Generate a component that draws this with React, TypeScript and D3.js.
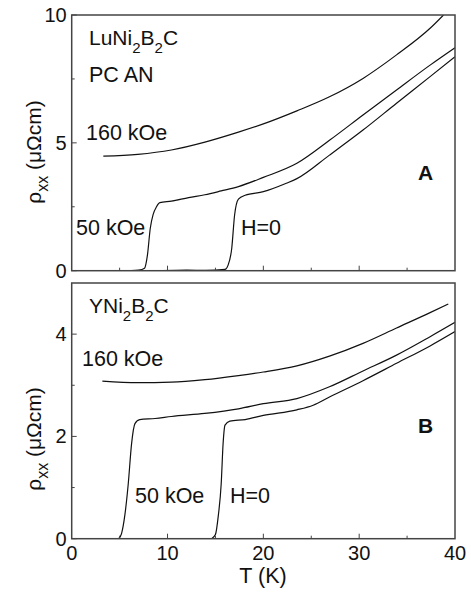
import React from 'react';
import * as d3 from 'd3';

// Panel A: LuNi2B2C
const tA160 = [3.3, 6.9, 10.4, 13.9, 17.4, 20, 23.5, 26.9, 30.4, 33.9, 37.4, 38.8];
const rA160 = [4.48, 4.55, 4.72, 5.03, 5.42, 5.74, 6.25, 6.8, 7.52, 8.44, 9.48, 10.0];
const tA50 = [6.2, 7.0, 7.6, 7.9, 8.2, 8.5, 8.85, 9.2, 10.4, 12.2, 13.9, 15.6, 17.4, 20, 23.5, 26.9, 30.4, 33.9, 37.4, 40];
const rA50 = [0, 0.02, 0.1, 0.6, 1.66, 2.2, 2.5, 2.66, 2.72, 2.86, 2.97, 3.12, 3.29, 3.65, 4.2, 5.1, 6.09, 7.07, 8.04, 8.72];
const tA0 = [9.5, 12, 14, 16.0, 16.3, 16.7, 17.0, 17.4, 18.1, 20, 22.4, 23.5, 26.9, 30.4, 33.9, 37.4, 40];
const rA0 = [0, 0.02, 0.01, 0.05, 0.2, 0.87, 2.18, 2.8, 2.95, 3.09, 3.42, 3.6, 4.52, 5.5, 6.55, 7.59, 8.37];

// Panel B: YNi2B2C
const tB160 = [3.2, 6.9, 10.4, 13.9, 17.4, 20, 23.5, 26.9, 30.4, 33.9, 37.4, 39.3];
const rB160 = [3.08, 3.05, 3.06, 3.11, 3.19, 3.26, 3.38, 3.57, 3.82, 4.12, 4.42, 4.59];
const tB50 = [4.9, 5.2, 5.56, 5.9, 6.25, 6.6, 7.1, 8.7, 10.4, 13.9, 17.4, 20, 23.5, 26.9, 30.4, 33.9, 37.4, 40];
const rB50 = [0, 0.1, 0.48, 1.07, 1.86, 2.25, 2.33, 2.35, 2.39, 2.45, 2.54, 2.64, 2.74, 2.97, 3.28, 3.59, 3.95, 4.23];
const tB0 = [14.6, 15.0, 15.3, 15.6, 15.8, 16.0, 16.5, 18.1, 20, 23.5, 25.2, 26.9, 30.4, 33.9, 37.4, 40];
const rB0 = [0, 0.08, 0.45, 1.07, 1.86, 2.22, 2.3, 2.33, 2.41, 2.52, 2.61, 2.77, 3.09, 3.43, 3.77, 4.05];

const xTicks = [0, 10, 20, 30, 40];
const xMinor = [5, 15, 25, 35];
const yTicksA = [0, 5, 10];
const yMinorA = [2.5, 7.5];
const yTicksB = [0, 2, 4];
const yMinorB = [1, 3];

const W = 471;
const H = 593;
const left = 71.7;
const right = 455;
const font = 'Liberation Sans, Arial, Helvetica, sans-serif';

const x = d3.scaleLinear().domain([0, 40]).range([left, right]);
const yA = d3.scaleLinear().domain([0, 10]).range([270.7, 15]);
const yB = d3.scaleLinear().domain([0, 5]).range([538.7, 283]);

type Pt = [number, number];
const zip = (t: number[], r: number[]): Pt[] => t.map((v, i) => [v, r[i]]);

const Panel = ({ y, yTicks, yMinor, series, clipId, showXLabels }: any) => {
  const line = d3.line<Pt>().x(d => x(d[0])).y(d => y(d[1])).curve(d3.curveMonotoneX);
  const [y0, y1] = y.range();
  return (
    <g>
      <defs>
        <clipPath id={clipId}>
          <rect x={left} y={y1} width={right - left} height={y0 - y1} />
        </clipPath>
      </defs>
      <g clipPath={`url(#${clipId})`}>
        {series.map((s: Pt[], i: number) => (
          <path key={i} d={line(s) || ''} fill="none" stroke="#111" strokeWidth={1.2} />
        ))}
      </g>
      <rect x={left} y={y1} width={right - left} height={y0 - y1} fill="none" stroke="#444" strokeWidth={1.5} />
      {xTicks.slice(1, -1).map(t => (
        <line key={'xt' + t} x1={x(t)} x2={x(t)} y1={y0} y2={y0 - 5} stroke="#444" strokeWidth={1} />
      ))}
      {xMinor.map(t => (
        <line key={'xm' + t} x1={x(t)} x2={x(t)} y1={y0} y2={y0 - 3} stroke="#444" strokeWidth={1} />
      ))}
      {yTicks.map((t: number) => (
        <g key={'yt' + t}>
          <line x1={left} x2={left + 5} y1={y(t)} y2={y(t)} stroke="#444" strokeWidth={1} />
          <text x={left - 5} y={y(t) + 7} textAnchor="end" fontSize={20} fontFamily={font} fill="#111">{t}</text>
        </g>
      ))}
      {yMinor.map((t: number) => (
        <line key={'ym' + t} x1={left} x2={left + 3} y1={y(t)} y2={y(t)} stroke="#444" strokeWidth={1} />
      ))}
      {showXLabels && xTicks.map(t => (
        <text key={'xl' + t} x={x(t)} y={560} textAnchor="middle" fontSize={20} fontFamily={font} fill="#111">{t}</text>
      ))}
    </g>
  );
};

const Formula = ({ px, py, el }: { px: number; py: number; el: string }) => (
  <text x={px} y={py} fontSize={21} fontFamily={font} fill="#111">
    {el}<tspan dy={8} fontSize={15}>2</tspan><tspan dy={-8}>B</tspan><tspan dy={8} fontSize={15}>2</tspan><tspan dy={-8}>C</tspan>
  </text>
);

const YLabel = ({ cx, cy }: { cx: number; cy: number }) => (
  <text transform={`translate(${cx},${cy}) rotate(-90)`} textAnchor="middle" fontSize={21} fontFamily={font} fill="#111">
    ρ<tspan dy={7} fontSize={16}>xx</tspan><tspan dy={-7}> (μΩcm)</tspan>
  </text>
);

export default function App() {
  const lbl = { fontSize: 21.5, fontFamily: font, fill: '#111' };
  return (
    <div style={{ position: 'absolute', left: 0, top: 0 }}>
      <svg width={W} height={H} style={{ display: 'block', background: '#fff' }}>
        <Panel y={yA} yTicks={yTicksA} yMinor={yMinorA} clipId="clipA" showXLabels={false}
          series={[zip(tA160, rA160), zip(tA50, rA50), zip(tA0, rA0)]} />
        <Panel y={yB} yTicks={yTicksB} yMinor={yMinorB} clipId="clipB" showXLabels={true}
          series={[zip(tB160, rB160), zip(tB50, rB50), zip(tB0, rB0)]} />

        <Formula px={89} py={45} el="LuNi" />
        <text x={89} y={82} {...lbl}>PC AN</text>
        <text x={86} y={140} {...lbl}>160 kOe</text>
        <text x={76} y={235} {...lbl}>50 kOe</text>
        <text x={241} y={235} {...lbl}>H=0</text>
        <text x={418} y={180} fontSize={21} fontWeight="bold" fontFamily={font} fill="#111">A</text>

        <Formula px={89} py={313} el="YNi" />
        <text x={82} y={366} {...lbl}>160 kOe</text>
        <text x={135} y={503} {...lbl}>50 kOe</text>
        <text x={230} y={503} {...lbl}>H=0</text>
        <text x={418} y={433} fontSize={21} fontWeight="bold" fontFamily={font} fill="#111">B</text>

        <YLabel cx={41} cy={152} />
        <YLabel cx={41} cy={439} />
        <text x={263} y={583} textAnchor="middle" {...lbl}>T (K)</text>
      </svg>
    </div>
  );
}
